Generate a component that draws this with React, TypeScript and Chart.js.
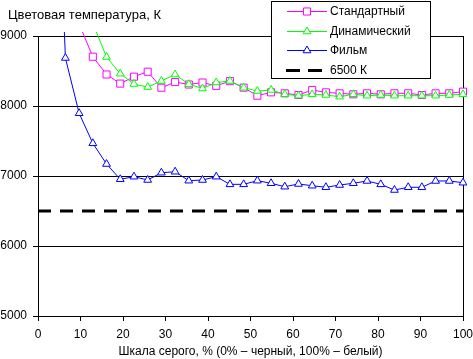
import React, { useEffect, useRef } from "react";
import { Chart, registerables } from "chart.js";

Chart.register(...registerables);

const FONT = "'Liberation Sans', Arial, sans-serif";

// Grayscale level, % (x positions of the measured points)
const grayPercent = [
  3.23, 6.45, 9.68, 12.9, 16.13, 19.35, 22.58, 25.81, 29.03, 32.26, 35.48,
  38.71, 41.94, 45.16, 48.39, 51.61, 54.84, 58.06, 61.29, 64.52, 67.74, 70.97,
  74.19, 77.42, 80.65, 83.87, 87.1, 90.32, 93.55, 96.77, 100,
];

const standardK = [
  null, null, 9170, 8704, 8450, 8320, 8419, 8490, 8261, 8342, 8307,
  8335, 8288, 8355, 8262, 8147, 8195, 8181, 8157, 8229, 8195, 8181,
  8167, 8181, 8167, 8181, 8181, 8157, 8181, 8181, 8205,
];

const dynamicK = [
  null, null, null, 9180, 8700, 8462, 8314, 8270, 8357, 8450, 8312,
  8250, 8336, 8357, 8261, 8214, 8229, 8167, 8147, 8167, 8157, 8133,
  8167, 8147, 8157, 8147, 8147, 8147, 8147, 8157, 8167,
];

const filmK = [
  13600, 8686, 7896, 7467, 7171, 6953, 6990, 6943, 7047, 7061, 6933,
  6943, 6990, 6881, 6881, 6933, 6896, 6847, 6886, 6861, 6839, 6871,
  6896, 6929, 6881, 6800, 6839, 6839, 6929, 6929, 6904,
];

const refX = [0, 100];
const refK = [6500, 6500];

const seriesNames = ["Стандартный", "Динамический", "Фильм", "6500 К"];
const yTitle = "Цветовая температура, К";
const xTitle = "Шкала серого, % (0% – черный, 100% – белый)";

const toPoints = (xs: number[], ys: (number | null)[]) =>
  xs.map((x, i) => ({ x, y: ys[i] }));

const drawMarker = (ctx: CanvasRenderingContext2D, style: string, x: number, y: number, r: number, color: string) => {
  ctx.save();
  ctx.setLineDash([]);
  ctx.lineWidth = 1;
  ctx.strokeStyle = color;
  ctx.fillStyle = "#ffffff";
  ctx.beginPath();
  if (style === "rect") {
    const s = Math.SQRT1_2 * r;
    ctx.rect(x - s, y - s, 2 * s, 2 * s);
  } else {
    let rad = 0;
    ctx.moveTo(x + Math.sin(rad) * r, y - Math.cos(rad) * r);
    rad += (2 * Math.PI) / 3;
    ctx.lineTo(x + Math.sin(rad) * r, y - Math.cos(rad) * r);
    rad += (2 * Math.PI) / 3;
    ctx.lineTo(x + Math.sin(rad) * r, y - Math.cos(rad) * r);
    ctx.closePath();
  }
  ctx.fill();
  ctx.stroke();
  ctx.restore();
};

const decorPlugin = {
  id: "decor",
  afterDraw(chart: any) {
    const ctx: CanvasRenderingContext2D = chart.ctx;
    ctx.save();
    // axis title at top-left
    ctx.font = `13px ${FONT}`;
    ctx.fillStyle = "#000";
    ctx.textBaseline = "middle";
    ctx.textAlign = "left";
    ctx.fillText(yTitle, 8, 15);

    // legend box
    ctx.fillStyle = "#fff";
    ctx.fillRect(271, 1, 159, 77);
    ctx.strokeStyle = "#000";
    ctx.lineWidth = 1;
    ctx.strokeRect(271.5, 1.5, 159, 77);

    chart.data.datasets.forEach((ds: any, i: number) => {
      const y = Math.round(11 + i * 19.5) + 0.5;
      ctx.save();
      ctx.strokeStyle = ds.borderColor;
      ctx.lineWidth = ds.borderWidth;
      if (ds.borderDash && ds.borderDash.length) {
        ctx.setLineDash([14, 8]);
        ctx.beginPath();
        ctx.moveTo(286, y);
        ctx.lineTo(322, y);
        ctx.stroke();
      } else {
        ctx.beginPath();
        ctx.moveTo(287, y);
        ctx.lineTo(327, y);
        ctx.stroke();
      }
      ctx.restore();
      if (ds.pointRadius > 0) {
        drawMarker(ctx, ds.pointStyle, 307, y, ds.pointRadius, ds.borderColor);
      }
      ctx.fillStyle = "#000";
      ctx.font = `12px ${FONT}`;
      ctx.textBaseline = "middle";
      ctx.fillText(ds.label, 330, y);
    });
    ctx.restore();
  },
};

export default function App() {
  const canvasRef = useRef<HTMLCanvasElement | null>(null);

  useEffect(() => {
    if (!canvasRef.current) return;
    const chart = new Chart(canvasRef.current, {
      type: "line",
      data: {
        datasets: [
          {
            label: seriesNames[0],
            data: toPoints(grayPercent, standardK),
            borderColor: "#ff00ff",
            backgroundColor: "#ffffff",
            borderWidth: 1,
            pointStyle: "rect",
            pointRadius: 5,
            pointBorderWidth: 1,
            order: 3,
            clip: 4,
          },
          {
            label: seriesNames[1],
            data: toPoints(grayPercent, dynamicK),
            borderColor: "#00ff00",
            backgroundColor: "#ffffff",
            borderWidth: 1,
            pointStyle: "triangle",
            pointRadius: 4.5,
            pointBorderWidth: 1,
            order: 2,
            clip: 4,
          },
          {
            label: seriesNames[2],
            data: toPoints(grayPercent, filmK),
            borderColor: "#0000ff",
            backgroundColor: "#ffffff",
            borderWidth: 1,
            pointStyle: "triangle",
            pointRadius: 4.5,
            pointBorderWidth: 1,
            order: 1,
            clip: 4,
          },
          {
            label: seriesNames[3],
            data: toPoints(refX, refK),
            borderColor: "#000000",
            borderWidth: 3,
            borderDash: [13, 9],
            pointRadius: 0,
            order: 4,
          },
        ],
      } as any,
      options: {
        animation: false,
        responsive: false,
        maintainAspectRatio: false,
        layout: { padding: { top: 36, right: 10, left: 0, bottom: 0 } },
        plugins: {
          legend: { display: false },
          tooltip: { enabled: false },
          title: { display: false },
        },
        scales: {
          x: {
            type: "linear",
            min: 0,
            max: 100,
            ticks: {
              stepSize: 10,
              color: "#000",
              font: { family: FONT, size: 12 },
              padding: 6,
              maxRotation: 0,
              callback: (v: any) => String(v),
            },
            grid: {
              color: (c: any) => (c.tick && c.tick.value === 100 ? "#000" : "rgba(0,0,0,0)"),
              tickColor: "#000",
              tickLength: 5,
              lineWidth: 1,
            },
            border: { color: "#000", width: 1 },
            title: {
              display: true,
              text: xTitle,
              color: "#000",
              font: { family: FONT, size: 12 },
              padding: { top: 0, bottom: 0 },
            },
            afterFit: (s: any) => {
              s.height = 43;
              s.paddingRight = 0;
              s.paddingLeft = 0;
            },
          },
          y: {
            type: "linear",
            min: 5000,
            max: 9000,
            ticks: {
              stepSize: 1000,
              color: "#000",
              font: { family: FONT, size: 12 },
              padding: 6,
              callback: (v: any) => String(v),
            },
            grid: { color: "#000", tickColor: "#000", tickLength: 5, lineWidth: 1 },
            border: { color: "#000", width: 1 },
            afterFit: (s: any) => {
              s.width = 38;
              s.paddingTop = 0;
              s.paddingBottom = 0;
            },
          },
        },
      } as any,
      plugins: [decorPlugin],
    });
    return () => chart.destroy();
  }, []);

  return (
    <div style={{ position: "fixed", left: 0, top: 0, width: 473, height: 359, background: "#fff" }}>
      <canvas ref={canvasRef} width={473} height={359} style={{ width: 473, height: 359 }} />
    </div>
  );
}
